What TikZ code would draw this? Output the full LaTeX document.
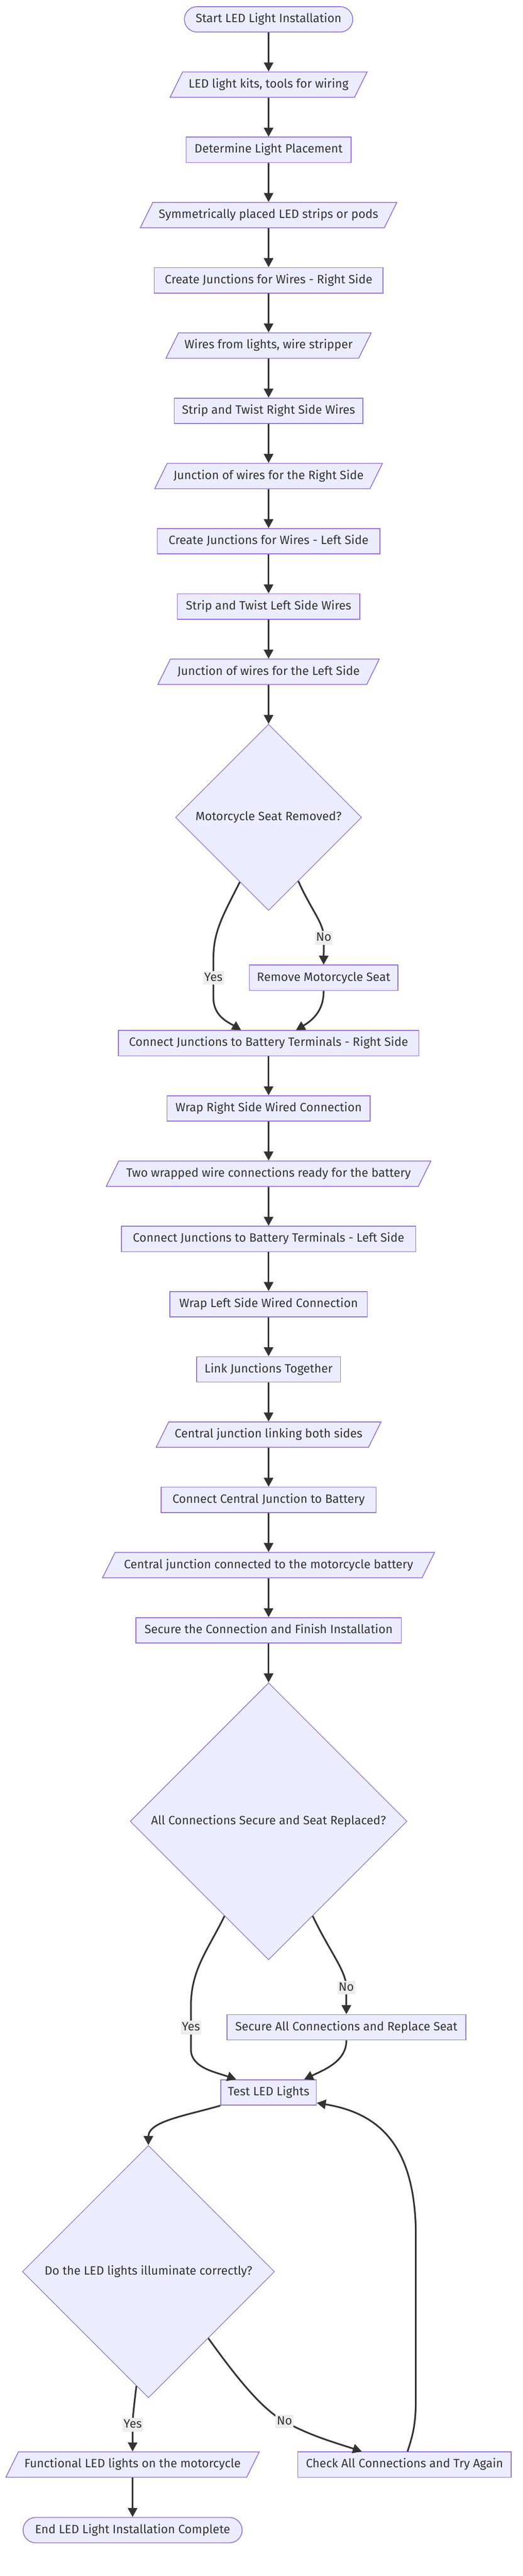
\documentclass[tikz,border=0pt]{standalone}
\usepackage{fontspec}
\setmainfont{Fira Sans}
\usetikzlibrary{shapes.geometric, arrows.meta, positioning}
\usepackage{xcolor}

\definecolor{boxfill}{HTML}{ECECFF}
\definecolor{boxline}{HTML}{9370DB}
\definecolor{ink}{HTML}{333333}
\definecolor{lblfill}{HTML}{EDEDED}

\tikzset{
  base/.style={draw=boxline, fill=boxfill, text=ink, line width=0.7pt,
    font=\fontsize{10.3pt}{12pt}\selectfont, text height=0.28cm, text depth=0.09cm,
    inner xsep=0.18cm, inner ysep=0.195cm, minimum height=0.76cm, align=center},
  process/.style={base, rectangle},
  terminal/.style={base, rectangle, rounded corners=0.38cm},
  data/.style={base, trapezium, trapezium left angle=63.7, trapezium right angle=116.3,
    trapezium stretches body},
  decision/.style={base, diamond, aspect=1, line width=0.55pt},
  lbl/.style={fill=lblfill, text=ink, font=\fontsize{10.3pt}{12pt}\selectfont,
    inner xsep=1pt, inner ysep=0pt, text height=0.3cm, text depth=0.11cm},
  flow/.style={->, draw=ink, line width=0.05cm}
}

\begin{document}
\begin{tikzpicture}[node distance=1.17cm, >={Triangle[length=0.27cm, width=0.28cm]}]

  \useasboundingbox (0,0) rectangle (15.68,-77.18);
  \fill[white] (0,0) rectangle (15.68,-77.18);

  % Preparation
  \node (start) [terminal, minimum width=5.05cm] at (8.054,-0.58) {Start LED Light Installation};
  \node (kits) [data, minimum width=5.9cm, below=of start] {LED light kits, tools for wiring};
  \node (place) [process, minimum width=4.95cm, below=of kits] {Determine Light Placement};
  \node (sym) [data, minimum width=7.59cm, below=of place] {Symmetrically placed LED strips or pods};

  % Right and left junctions
  \node (crright) [process, minimum width=6.856cm, below=of sym] {Create Junctions for Wires - Right Side};
  \node (wires) [data, minimum width=6.15cm, below=of crright] {Wires from lights, wire stripper};
  \node (stripright) [process, minimum width=5.663cm, below=of wires] {Strip and Twist Right Side Wires};
  \node (juncright) [data, minimum width=6.83cm, below=of stripright] {Junction of wires for the Right Side};
  \node (crleft) [process, minimum width=6.677cm, below=of juncright] {Create Junctions for Wires - Left Side};
  \node (stripleft) [process, minimum width=5.478cm, below=of crleft] {Strip and Twist Left Side Wires};
  \node (juncleft) [data, minimum width=6.64cm, below=of stripleft] {Junction of wires for the Left Side};

  % Seat check
  \node (seatq) [decision, minimum size=5.58cm, below=of juncleft] {Motorcycle Seat Removed?};
  \node (remseat) [process, minimum width=4.45cm] at (9.705,-29.295) {Remove Motorcycle Seat};

  % Battery terminals
  \node (conright) [process, minimum width=9.0cm, below=3.574cm of seatq] {Connect Junctions to Battery Terminals - Right Side};
  \node (wrapright) [process, minimum width=6.09cm, below=of conright] {Wrap Right Side Wired Connection};
  \node (ready) [data, minimum width=9.734cm, below=of wrapright] {Two wrapped wire connections ready for the battery};
  \node (conleft) [process, minimum width=8.816cm, below=of ready] {Connect Junctions to Battery Terminals - Left Side};
  \node (wrapleft) [process, minimum width=5.915cm, below=of conleft] {Wrap Left Side Wired Connection};
  \node (link) [process, minimum width=4.317cm, below=of wrapleft] {Link Junctions Together};
  \node (central) [data, minimum width=6.658cm, below=of link] {Central junction linking both sides};
  \node (concentral) [process, minimum width=6.443cm, below=of central] {Connect Central Junction to Battery};
  \node (centralbat) [data, minimum width=9.956cm, below=of concentral] {Central junction connected to the motorcycle battery};
  \node (secure) [process, minimum width=7.96cm, below=of centralbat] {Secure the Connection and Finish Installation};

  % Final checks
  \node (allq) [decision, minimum size=8.3cm, below=of secure] {All Connections Secure and Seat Replaced?};
  \node (secall) [process, minimum width=7.157cm] at (10.387,-60.74) {Secure All Connections and Replace Seat};
  \node (test) [process, minimum width=2.863cm, below=3.572cm of allq] {Test LED Lights};
  \node (lightq) [decision, minimum size=7.56cm] at (4.45,-68.06) {Do the LED lights illuminate correctly?};
  \node (func) [data, minimum width=7.59cm] at (3.975,-73.84) {Functional LED lights on the motorcycle};
  \node (check) [process, minimum width=6.4cm] at (12.13,-73.84) {Check All Connections and Try Again};
  \node (finish) [terminal, minimum width=6.57cm, below=1.18cm of func] {End LED Light Installation Complete};

  % Straight flow
  \draw[flow] (start) -- (kits);
  \draw[flow] (kits) -- (place);
  \draw[flow] (place) -- (sym);
  \draw[flow] (sym) -- (crright);
  \draw[flow] (crright) -- (wires);
  \draw[flow] (wires) -- (stripright);
  \draw[flow] (stripright) -- (juncright);
  \draw[flow] (juncright) -- (crleft);
  \draw[flow] (crleft) -- (stripleft);
  \draw[flow] (stripleft) -- (juncleft);
  \draw[flow] (juncleft) -- (seatq);
  \draw[flow] (conright) -- (wrapright);
  \draw[flow] (wrapright) -- (ready);
  \draw[flow] (ready) -- (conleft);
  \draw[flow] (conleft) -- (wrapleft);
  \draw[flow] (wrapleft) -- (link);
  \draw[flow] (link) -- (central);
  \draw[flow] (central) -- (concentral);
  \draw[flow] (concentral) -- (centralbat);
  \draw[flow] (centralbat) -- (secure);
  \draw[flow] (secure) -- (allq);
  \draw[flow] (func) -- (finish);

  % Seat branches
  \draw[flow] (seatq.-114) .. controls (6.7,-27.4) and (6.4,-27.9) .. (6.4,-28.7)
    -- node[lbl] {Yes} (6.4,-29.9) .. controls (6.4,-30.45) and (6.85,-30.63) .. ([xshift=-0.824cm]conright.north);
  \draw[flow] (seatq.-65) .. controls (9.35,-27.3) and (9.71,-27.65) .. (9.71,-28.1) node[lbl] {No} -- (remseat.north);
  \draw[flow] (remseat.south) .. controls (9.71,-30.3) and (9.35,-30.58) .. ([xshift=0.82cm]conright.north);

  % Final check branches
  \draw[flow] (allq.-115) .. controls (6.25,-58.4) and (5.725,-59.0) .. (5.725,-60.1)
    -- node[lbl] {Yes} (5.725,-61.4) .. controls (5.725,-61.95) and (6.45,-62.08) .. ([xshift=-0.971cm]test.north);
  \draw[flow] (allq.-65) .. controls (9.9,-58.5) and (10.385,-59.05) .. (10.385,-59.55) node[lbl] {No} -- (secall.north);
  \draw[flow] (secall.south) .. controls (10.387,-61.75) and (9.75,-62.0) .. ([xshift=1.067cm]test.north);

  % Test loop
  \draw[flow] (test.south west) .. controls (5.6,-63.38) and (4.45,-63.55) .. (lightq.north);
  \draw[flow] (lightq.-96) .. controls (4.01,-72.15) and (3.98,-72.4) .. (3.98,-72.65) node[lbl] {Yes} -- (func.north);
  \draw[flow] (lightq.-48) .. controls (7.0,-71.1) and (7.8,-72.15) .. (8.53,-72.55) node[lbl] {No}
    .. controls (9.3,-72.98) and (10.1,-73.2) .. ([xshift=-1.28cm]check.north);
  \draw[flow] ([xshift=0.09cm]check.north) .. controls (12.4,-72.9) and (12.47,-72.6) .. (12.47,-71.8)
    -- (12.47,-67.0) .. controls (12.47,-64.2) and (11.3,-63.3) .. ([yshift=0.08cm]test.south east);

\end{tikzpicture}
\end{document}
